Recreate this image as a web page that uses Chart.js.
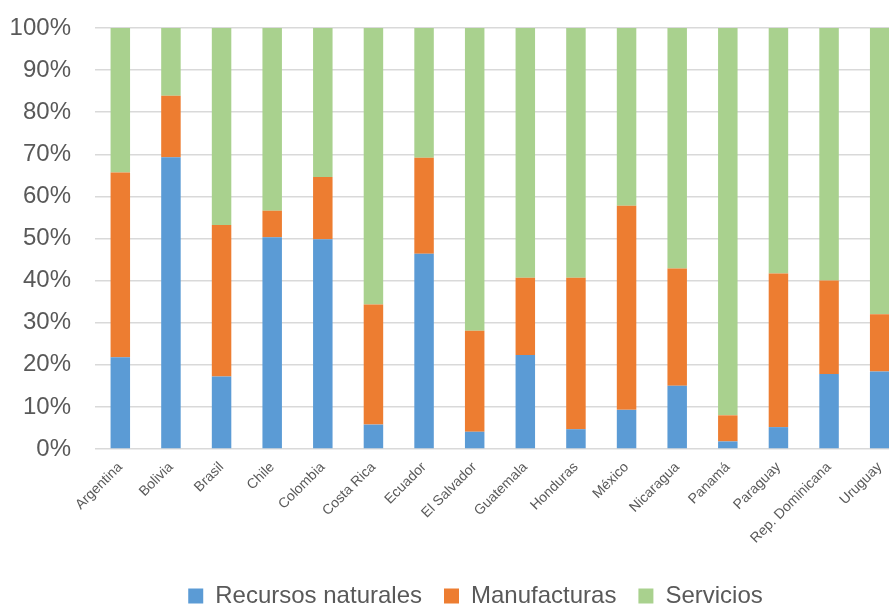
<!DOCTYPE html>
<html>
<head>
<meta charset="utf-8">
<script src="https://cdn.jsdelivr.net/npm/chart.js@4.4.1/dist/chart.umd.min.js"></script>
<style>
  html, body { margin: 0; padding: 0; background: #fff; overflow: hidden; }
</style>
</head>
<body>
<canvas id="myChart" width="905" height="607"></canvas>
<script>
const ctx = document.getElementById("myChart");

const countries = [
  "Argentina", "Bolivia", "Brasil", "Chile", "Colombia", "Costa Rica",
  "Ecuador", "El Salvador", "Guatemala", "Honduras", "México", "Nicaragua",
  "Panamá", "Paraguay", "Rep. Dominicana", "Uruguay",
];
const recursosNaturales = [21.8, 69.3, 17.2, 50.3, 49.8, 5.8, 46.4, 4.1, 22.3, 4.7, 9.3, 15.0, 1.8, 5.2, 17.8, 18.4];
const manufacturas = [43.9, 14.6, 36.0, 6.3, 14.8, 28.5, 22.8, 24.0, 18.4, 36.0, 48.5, 27.9, 6.2, 36.5, 22.2, 13.6];
const servicios = [34.3, 16.1, 46.8, 43.4, 35.4, 65.7, 30.8, 71.9, 59.3, 59.3, 42.2, 57.1, 92.0, 58.3, 60.0, 68.0];
const yTicks = [0, 10, 20, 30, 40, 50, 60, 70, 80, 90, 100];

const textColor = "#595959";
const fontFamily = "'Liberation Sans', Arial, sans-serif";

// nudge the legend a bit to the right, like the original
const legendShift = {
  id: "legendShift",
  afterLayout(chart) {
    chart.legend.left += 36;
  },
};

new Chart(ctx, {
  type: "bar",
  data: {
    labels: countries,
    datasets: [
      { label: "Recursos naturales", data: recursosNaturales, backgroundColor: "#5b9bd5" },
      { label: "Manufacturas", data: manufacturas, backgroundColor: "#ed7d31" },
      { label: "Servicios", data: servicios, backgroundColor: "#a9d18e" },
    ],
  },
  plugins: [legendShift],
  options: {
    responsive: false,
    animation: false,
    categoryPercentage: 1,
    barPercentage: 0.385,
    layout: { padding: { top: 28, left: 10, right: 0, bottom: -11 } },
    scales: {
      x: {
        stacked: true,
        grid: { display: false },
        border: { display: false },
        ticks: {
          color: textColor,
          font: { family: fontFamily, size: 14 },
          minRotation: 45,
          maxRotation: 45,
          padding: 2,
          autoSkip: false,
        },
        afterFit: (scale) => { scale.height = 113; },
      },
      y: {
        stacked: true,
        min: 0,
        max: 100,
        afterBuildTicks: (scale) => { scale.ticks = yTicks.map((v) => ({ value: v })); },
        grid: { color: "#d9d9d9", lineWidth: 1.5, drawTicks: true, tickLength: 24, tickColor: "transparent" },
        border: { display: false },
        ticks: {
          color: textColor,
          font: { family: fontFamily, size: 24 },
          padding: 0,
          callback: (value) => value + "%",
        },
        afterFit: (scale) => { scale.width = 85; },
      },
    },
    plugins: {
      tooltip: { enabled: false },
      legend: {
        position: "bottom",
        labels: {
          color: textColor,
          font: { family: fontFamily, size: 24 },
          boxWidth: 15,
          boxHeight: 15,
          padding: 22,
        },
      },
    },
  },
});
</script>
</body>
</html>
